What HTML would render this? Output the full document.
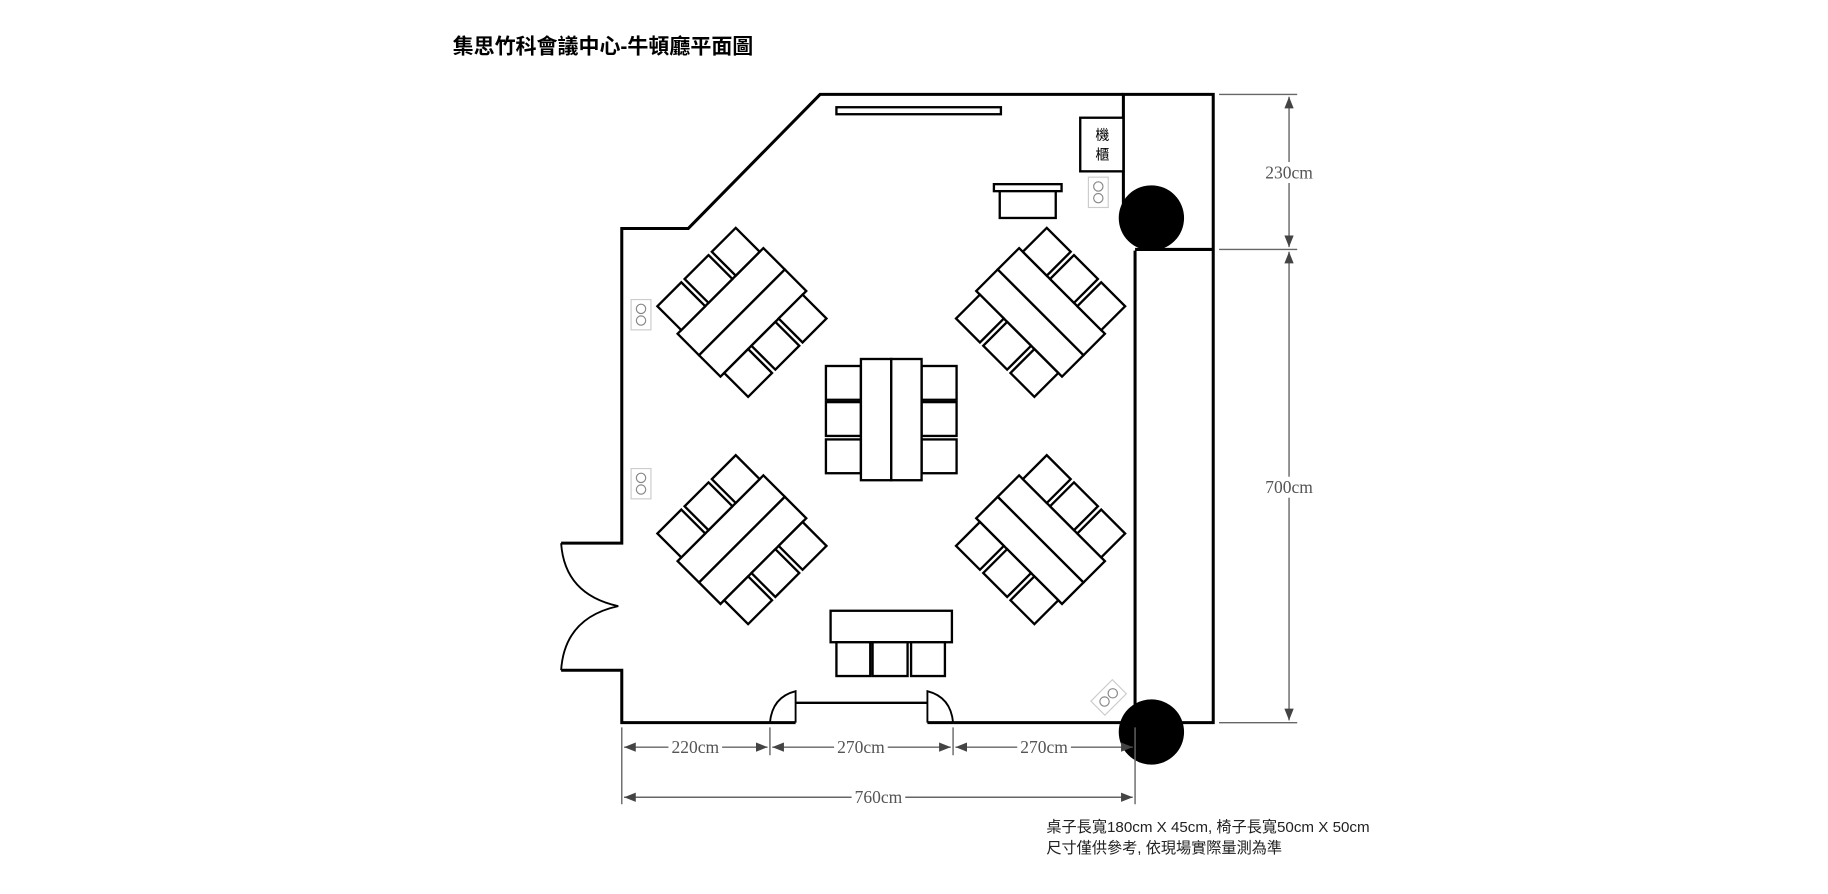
<!DOCTYPE html>
<html><head><meta charset="utf-8"><style>
html,body{margin:0;padding:0;background:#fff;width:1828px;height:894px;overflow:hidden}
svg{display:block}
.w{fill:none;stroke:#000;stroke-width:2.6}
.t{fill:#fff;stroke:#000;stroke-width:2}
.d{stroke:#666;stroke-width:1.2;fill:none}
.dl{font-family:"Liberation Serif",serif;font-size:15px;fill:#555;text-anchor:middle}
</style></head><body>
<svg width="1828" height="894" viewBox="0 0 1567 767" preserveAspectRatio="none">
<defs>
<marker id="a" markerWidth="10" markerHeight="8" refX="10" refY="4" orient="auto-start-reverse" markerUnits="userSpaceOnUse"><path d="M0,0 L10,4 L0,8 Z" fill="#444"/></marker>
<g id="grp">
<rect class="t" x="-52" y="-26" width="104" height="26"/>
<rect class="t" x="-52" y="0" width="104" height="26"/>
<rect class="t" x="-47.5" y="-55" width="29" height="29"/>
<rect class="t" x="-14.5" y="-55" width="29" height="29"/>
<rect class="t" x="18.5" y="-55" width="29" height="29"/>
<rect class="t" x="-47.5" y="26" width="29" height="29"/>
<rect class="t" x="-14.5" y="26" width="29" height="29"/>
<rect class="t" x="18.5" y="26" width="29" height="29"/>
</g>
<g id="out"><rect x="0" y="0" width="17" height="26" fill="#fff" stroke="#ccc" stroke-width="1"/><circle cx="8.5" cy="8" r="4" fill="none" stroke="#888"/><circle cx="8.5" cy="18" r="4" fill="none" stroke="#888"/></g>
</defs>
<text x="388" y="46" font-family="'Liberation Sans','Noto Sans CJK TC',sans-serif" font-size="18" font-weight="bold" fill="#000">集思竹科會議中心-牛頓廳平面圖</text>
<path class="w" d="M963,81 L703,81 L590,196 L533,196 L533,466 L481,466"/>
<path class="w" d="M481,575 L533,575 L533,620 L660,620"/>
<path class="w" d="M817,620 L1040,620 L1040,81 L963,81 L963,190"/>
<path class="w" d="M973,215 L973,620"/>
<path class="w" d="M973,214 L1040,214"/>
<path class="w" d="M660,620 L682,620 M795,620 L817,620"/>
<path fill="none" stroke="#000" stroke-width="1.6" d="M481,466 Q484,510 530,520 Q484,530 481,575"/>
<path fill="none" stroke="#000" stroke-width="1.6" d="M660,620 Q662,598 682,593 L682,620 M817,620 Q815,598 795,593 L795,620"/>
<path fill="none" stroke="#000" stroke-width="2" d="M682,603 L795,603"/>
<circle cx="987" cy="187" r="28" fill="#000"/>
<ellipse cx="987" cy="628" rx="28" ry="28" fill="#000"/>
<rect x="717" y="92" width="141" height="6" fill="#fff" stroke="#000" stroke-width="2"/>
<rect x="926" y="101" width="37" height="46" fill="#fff" stroke="#000" stroke-width="2"/>
<text x="945" y="120" font-family="'Noto Sans CJK TC',sans-serif" font-size="12" text-anchor="middle">機</text>
<text x="945" y="137" font-family="'Noto Sans CJK TC',sans-serif" font-size="12" text-anchor="middle">櫃</text>
<rect x="852" y="158" width="58" height="6" fill="#fff" stroke="#000" stroke-width="2"/>
<rect x="857" y="164" width="48" height="23" fill="#fff" stroke="#000" stroke-width="2"/>
<use href="#out" x="933" y="152"/>
<use href="#out" x="541" y="257"/>
<use href="#out" x="541" y="402"/>
<use href="#out" transform="translate(950,598) rotate(45) translate(-8,-13)"/>
<use href="#grp" transform="translate(636,268) rotate(-45)"/>
<use href="#grp" transform="translate(892,268) rotate(45)"/>
<use href="#grp" transform="translate(636,463) rotate(-45)"/>
<use href="#grp" transform="translate(892,463) rotate(45)"/>
<rect class="t" x="708" y="314" width="30" height="29"/>
<rect class="t" x="708" y="345" width="30" height="29"/>
<rect class="t" x="708" y="377" width="30" height="29"/>
<rect class="t" x="790" y="314" width="30" height="29"/>
<rect class="t" x="790" y="345" width="30" height="29"/>
<rect class="t" x="790" y="377" width="30" height="29"/>
<rect class="t" x="738" y="308" width="26" height="104"/>
<rect class="t" x="764" y="308" width="26" height="104"/>
<rect class="t" x="712" y="524" width="104" height="27"/>
<rect class="t" x="717" y="551" width="29" height="29"/>
<rect class="t" x="748" y="551" width="30" height="29"/>
<rect class="t" x="781" y="551" width="29" height="29"/>
<path class="d" d="M1045,81 L1112,81 M1045,214 L1112,214 M1045,620 L1112,620"/>
<path class="d" d="M533,624 L533,690 M660,624 L660,648 M817,624 L817,648 M973,624 L973,690"/>
<line class="d" x1="1105" y1="83" x2="1105" y2="212" marker-start="url(#a)" marker-end="url(#a)"/>
<line class="d" x1="1105" y1="216" x2="1105" y2="618" marker-start="url(#a)" marker-end="url(#a)"/>
<line class="d" x1="535" y1="641" x2="658" y2="641" marker-start="url(#a)" marker-end="url(#a)"/>
<line class="d" x1="662" y1="641" x2="815" y2="641" marker-start="url(#a)" marker-end="url(#a)"/>
<line class="d" x1="819" y1="641" x2="971" y2="641" marker-start="url(#a)" marker-end="url(#a)"/>
<line class="d" x1="535" y1="684" x2="971" y2="684" marker-start="url(#a)" marker-end="url(#a)"/>
<rect x="1082" y="139" width="46" height="18" fill="#fff"/><text class="dl" x="1105" y="153">230cm</text>
<rect x="1082" y="409" width="46" height="18" fill="#fff"/><text class="dl" x="1105" y="423">700cm</text>
<rect x="573" y="632" width="46" height="18" fill="#fff"/><text class="dl" x="596" y="646">220cm</text>
<rect x="715" y="632" width="46" height="18" fill="#fff"/><text class="dl" x="738" y="646">270cm</text>
<rect x="872" y="632" width="46" height="18" fill="#fff"/><text class="dl" x="895" y="646">270cm</text>
<rect x="730" y="675" width="46" height="18" fill="#fff"/><text class="dl" x="753" y="689">760cm</text>
<text x="897" y="714" font-family="'Liberation Sans','Noto Sans CJK TC',sans-serif" font-size="13" fill="#222">桌子長寬180cm X 45cm, 椅子長寬50cm X 50cm</text>
<text x="897" y="732" font-family="'Liberation Sans','Noto Sans CJK TC',sans-serif" font-size="13" fill="#222">尺寸僅供參考, 依現場實際量測為準</text>
</svg>
</body></html>
